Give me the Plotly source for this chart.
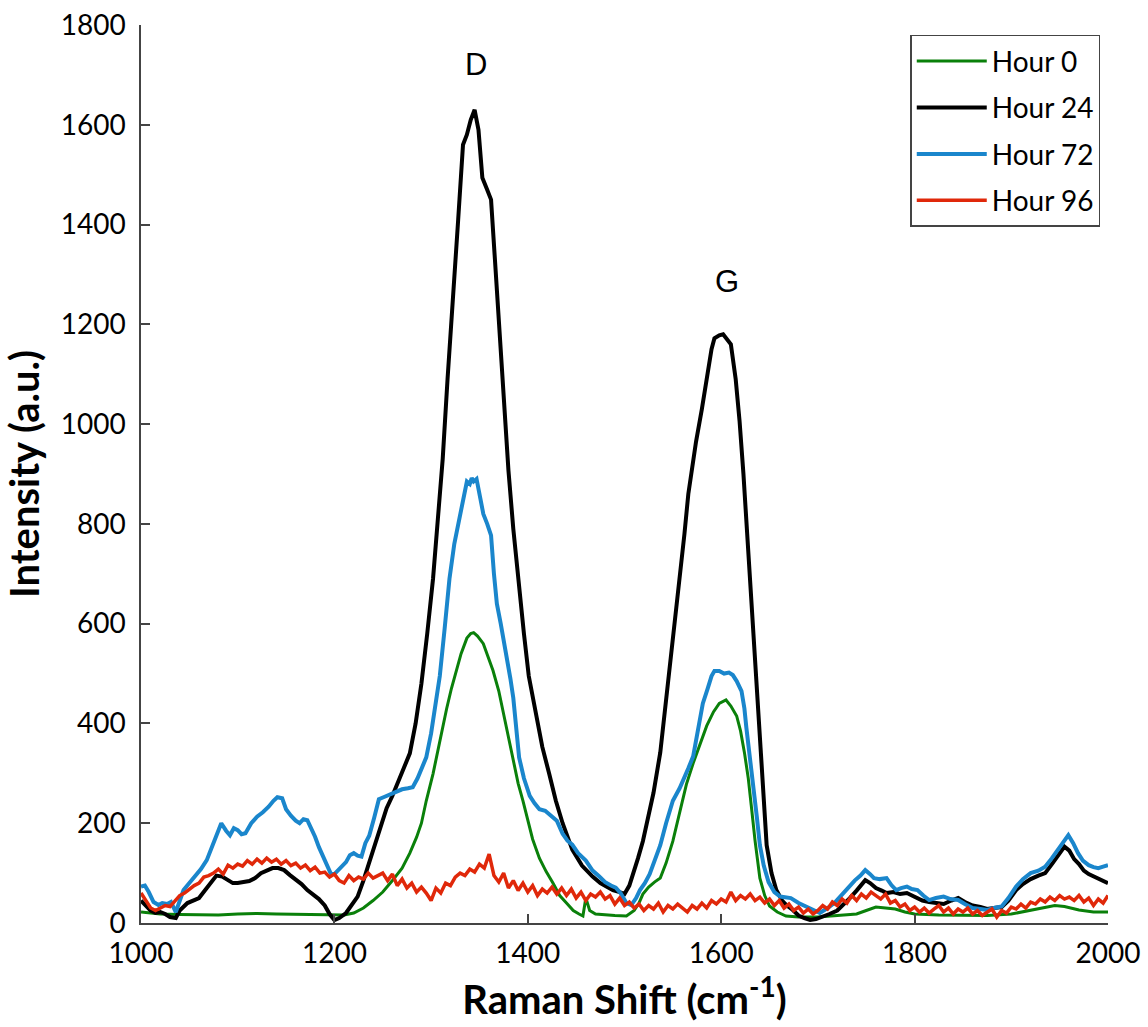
import plotly.graph_objects as go

# ---------------- data ----------------
series_names = ["Hour 0", "Hour 24", "Hour 72", "Hour 96"]
series_colors = ["#0a800a", "#000000", "#1a86cc", "#e0280a"]

h0_x = [1000, 1010, 1020, 1040, 1060, 1080, 1100, 1120, 1140, 1160, 1180, 1200, 1210, 1220,
        1230, 1240, 1250, 1260, 1270, 1278, 1285, 1290, 1295, 1302, 1309, 1316, 1321, 1326,
        1331, 1337, 1341, 1344, 1348, 1354, 1359, 1364, 1370, 1375, 1380, 1385, 1390, 1395,
        1400, 1405, 1412, 1419, 1426, 1433, 1440, 1447, 1453, 1457, 1460, 1464, 1470, 1480,
        1490, 1502, 1510, 1515, 1519, 1525, 1531, 1537, 1543, 1550, 1557, 1564, 1571, 1578,
        1585, 1592, 1598, 1605, 1610, 1616, 1620, 1624, 1628, 1631, 1635, 1640, 1645, 1650,
        1658, 1667, 1680, 1700, 1720, 1740, 1750, 1760, 1770, 1780, 1790, 1800, 1825, 1850,
        1875, 1900, 1915, 1930, 1945, 1955, 1970, 1985, 2000]
h0_y = [22, 20, 18, 17, 17, 16, 18, 19, 18, 17, 16, 15, 16, 20,
        30, 45, 62, 85, 110, 140, 172, 200, 245, 299, 365, 429, 470, 506,
        540, 571, 580, 582, 575, 560, 535, 506, 465, 419, 370, 321, 280, 245,
        205, 168, 130, 103, 80, 55, 40, 25, 18, 14, 50, 25, 18, 16,
        15, 14, 25, 40, 58, 72, 82, 90, 120, 164, 220, 278, 320, 358,
        395, 423, 440, 447, 435, 415, 385, 342, 290, 237, 165, 90, 55, 34,
        22, 14, 12, 12, 15, 18, 25, 32, 30, 28, 22, 18, 16, 15,
        15, 18, 24, 30, 35, 33, 26, 22, 22]

h24_x = [1000, 1005, 1010, 1015, 1020, 1025, 1030, 1036, 1040, 1048, 1055, 1060, 1066, 1072,
         1078, 1084, 1090, 1095, 1100, 1106, 1112, 1118, 1124, 1130, 1136, 1142, 1148, 1154,
         1160, 1166, 1172, 1178, 1184, 1190, 1195, 1200, 1205, 1212, 1218, 1224, 1230, 1236,
         1242, 1248, 1254, 1260, 1266, 1272, 1278, 1284, 1290, 1296, 1302, 1307, 1312, 1317,
         1323, 1328, 1333, 1337, 1341, 1345, 1349, 1353, 1358, 1362, 1366, 1370, 1375, 1380,
         1385, 1391, 1396, 1401, 1408, 1415, 1422, 1429, 1436, 1446, 1456, 1467, 1475, 1482,
         1488, 1495, 1500, 1505, 1509, 1514, 1519, 1525, 1530, 1537, 1542, 1547, 1552, 1557,
         1562, 1566, 1570, 1574, 1580, 1585, 1590, 1593, 1598, 1602, 1606, 1610, 1615, 1619,
         1623, 1626, 1630, 1633, 1637, 1640, 1644, 1647, 1652, 1657, 1663, 1668, 1674, 1680,
         1686, 1692, 1698, 1705, 1712, 1720, 1727, 1733, 1740, 1745, 1749, 1754, 1760, 1766,
         1771, 1778, 1785, 1792, 1800, 1808, 1815, 1822, 1830, 1838, 1845, 1852, 1860, 1868,
         1875, 1882, 1890, 1897, 1905, 1912, 1920, 1928, 1935, 1942, 1948, 1955, 1960, 1965,
         1970, 1975, 1980, 1985, 1990, 1995, 2000]
h24_y = [45, 35, 25, 20, 22, 18, 12, 10, 25, 40, 45, 50, 65, 80,
         95, 93, 85, 80, 80, 82, 84, 90, 100, 105, 110, 110, 106, 96,
         88, 78, 66, 58, 48, 35, 18, 6, 10, 20, 35, 53, 85, 120,
         160, 195, 230, 255, 285, 310, 340, 400, 480, 580, 690, 810, 930, 1090,
         1255, 1410, 1560, 1580, 1610, 1630, 1590, 1494, 1470, 1450, 1330, 1200, 1050, 907,
         790, 668, 580, 495, 420, 353, 300, 245, 200, 147, 115, 93, 80, 72,
         66, 62, 58, 75, 98, 130, 164, 215, 261, 342, 430, 520, 600, 682,
         780, 860, 920, 965, 1030, 1087, 1150, 1172, 1178, 1180, 1170, 1160, 1090, 1006,
         900, 803, 700, 601, 480, 358, 250, 156, 100, 66, 45, 35, 26, 15,
         10, 6, 8, 12, 18, 25, 38, 50, 65, 78, 86, 80, 70, 65,
         60, 62, 58, 60, 52, 45, 42, 40, 38, 45, 50, 42, 35, 32,
         28, 30, 32, 45, 66, 78, 88, 95, 100, 118, 135, 153, 145, 128,
         118, 105, 98, 93, 90, 85, 80]

h72_x = [1000, 1004, 1008, 1013, 1018, 1022, 1027, 1031, 1036, 1040, 1044, 1050, 1056, 1062,
         1068, 1072, 1076, 1080, 1083, 1088, 1092, 1096, 1100, 1104, 1108, 1114, 1120, 1126,
         1132, 1137, 1141, 1146, 1150, 1155, 1160, 1164, 1168, 1172, 1176, 1180, 1184, 1188,
         1192, 1196, 1200, 1204, 1208, 1212, 1216, 1220, 1224, 1228, 1232, 1236, 1241, 1246,
         1252, 1258, 1264, 1270, 1276, 1281, 1286, 1291, 1295, 1300, 1305, 1309, 1314, 1319,
         1324, 1330, 1334, 1337, 1340, 1342, 1344, 1347, 1351, 1354, 1358, 1362, 1365, 1368,
         1372, 1378, 1382, 1385, 1388, 1391, 1396, 1402, 1407, 1412, 1418, 1424, 1430, 1436,
         1441, 1446, 1452, 1460, 1467, 1474, 1480, 1486, 1491, 1496, 1502, 1507, 1512, 1516,
         1521, 1526, 1531, 1537, 1543, 1550, 1557, 1562, 1566, 1571, 1576, 1581, 1586, 1590,
         1593, 1598, 1603, 1608, 1612, 1616, 1621, 1624, 1626, 1630, 1633, 1637, 1640, 1644,
         1649, 1655, 1661, 1667, 1672, 1680, 1687, 1694, 1702, 1710, 1717, 1724, 1732, 1738,
         1744, 1749, 1754, 1758, 1764, 1771, 1776, 1781, 1786, 1792, 1797, 1803, 1809, 1815,
         1822, 1830, 1837, 1845, 1852, 1860, 1868, 1875, 1882, 1890, 1897, 1905, 1912, 1920,
         1928, 1935, 1942, 1950, 1955, 1959, 1964, 1969, 1974, 1980, 1985, 1990, 1995, 2000]
h72_y = [73, 75, 62, 42, 36, 40, 38, 42, 22, 45, 66, 80, 93, 108,
         126, 145, 166, 185, 200, 185, 176, 190, 186, 178, 180, 200, 213, 222,
         233, 245, 252, 250, 228, 215, 205, 200, 208, 206, 190, 173, 152, 133,
         115, 100, 98, 106, 112, 122, 136, 140, 135, 133, 160, 175, 210, 248,
         253, 258, 262, 268, 270, 272, 290, 312, 332, 380, 440, 495, 590, 690,
         760, 820, 860, 885, 880, 892, 885, 890, 850, 820, 800, 777, 700, 640,
         600, 538, 490, 451, 390, 332, 290, 255, 240, 228, 225, 215, 205, 179,
         165, 157, 140, 125, 105, 93, 82, 75, 71, 60, 40, 36, 50, 66,
         80, 98, 125, 156, 200, 245, 270, 290, 310, 334, 390, 440, 470, 495,
         505, 505, 500, 502, 497, 485, 465, 430, 392, 330, 278, 210, 156, 115,
         82, 62, 53, 52, 50, 40, 33, 26, 20, 30, 40, 55, 73, 85,
         95, 106, 98, 90, 88, 90, 76, 66, 70, 73, 68, 66, 55, 46,
         50, 53, 48, 46, 38, 30, 28, 26, 30, 33, 50, 73, 88, 100,
         105, 113, 130, 153, 168, 176, 160, 140, 125, 116, 112, 110, 113, 116]

h96_x = list(range(1000, 2001, 5))
h96_y = [60, 45, 30, 25, 30, 35, 33, 45, 55, 60, 68, 75, 80, 92, 95, 100, 108, 98, 116, 110,
         118, 114, 125, 118, 128, 120, 130, 122, 128, 118, 125, 115, 120, 110, 116, 105, 112, 100, 102, 92,
         98, 85, 80, 95, 85, 92, 88, 100, 90, 96, 100, 85, 98, 75, 88, 70, 80, 62, 72, 60,
         45, 70, 60, 80, 75, 92, 100, 95, 108, 102, 118, 110, 138, 95, 82, 100, 70, 85, 65, 80,
         62, 75, 55, 68, 60, 72, 58, 70, 55, 68, 50, 62, 45, 58, 52, 62, 48, 55, 38, 50,
         35, 42, 30, 38, 25, 35, 28, 40, 22, 35, 28, 38, 30, 22, 35, 28, 40, 30, 45, 38,
         48, 42, 62, 45, 55, 48, 58, 45, 52, 40, 48, 35, 45, 30, 38, 25, 32, 20, 28, 18,
         25, 35, 28, 42, 35, 48, 40, 55, 45, 58, 50, 62, 55, 48, 58, 40, 45, 32, 38, 25,
         32, 22, 30, 20, 28, 35, 22, 30, 18, 28, 22, 30, 18, 25, 15, 22, 28, 12, 25, 20,
         32, 28, 38, 30, 42, 38, 48, 42, 52, 45, 55, 48, 52, 45, 55, 42, 50, 35, 48, 40,
         55]

x_ticks = [1000, 1200, 1400, 1600, 1800, 2000]
y_ticks = [0, 200, 400, 600, 800, 1000, 1200, 1400, 1600, 1800]

peak_labels = ["D", "G"]
peak_label_x = [1346, 1606]
peak_label_y = [1720, 1285]

# ---------------- figure ----------------
xs = [h0_x, h24_x, h72_x, h96_x]
ys = [h0_y, h24_y, h72_y, h96_y]
widths = [3, 4, 4, 3.5]

fig = go.Figure()
for name, color, x, y, w in zip(series_names, series_colors, xs, ys, widths):
    fig.add_trace(go.Scatter(x=x, y=y, mode="lines", name=name, legendgroup=name,
                             line=dict(color=color, width=w)))

for t, tx, ty in zip(peak_labels, peak_label_x, peak_label_y):
    fig.add_annotation(x=tx, y=ty, text=t, showarrow=False,
                       font=dict(family="Liberation Sans, Arial", size=31, color="#000"))

axis_common = dict(showline=True, linecolor="#444", linewidth=1.5, mirror=False,
                   ticks="inside", ticklen=9, tickwidth=1.5, tickcolor="#444",
                   showgrid=False, zeroline=False,
                   tickfont=dict(family="Lato", size=28, color="#000"))

fig.update_xaxes(range=[1000, 2000], tickvals=x_ticks, ticklabelstandoff=5, **axis_common,
                 title=dict(text="Raman Shift (cm<sup>-1</sup>)", standoff=7,
                            font=dict(family="Lato", size=40, color="#000", weight="bold")))
fig.update_yaxes(range=[0, 1800], tickvals=y_ticks, ticklabelstandoff=8, **axis_common,
                 title=dict(text="Intensity (a.u.)", standoff=16,
                            font=dict(family="Lato", size=40, color="#000", weight="bold")))

fig.update_layout(
    width=1148, height=1027,
    margin=dict(l=141, r=40, t=25, b=104, autoexpand=False),
    paper_bgcolor="white", plot_bgcolor="white",
    showlegend=True,
    legend=dict(x=0.992, y=0.989, xanchor="right", yanchor="top",
                bgcolor="white", bordercolor="#444", borderwidth=1.5,
                font=dict(family="Lato", size=28, color="#000"),
                traceorder="grouped", tracegroupgap=7,
                itemwidth=70),
)

fig.write_html("out.html")
